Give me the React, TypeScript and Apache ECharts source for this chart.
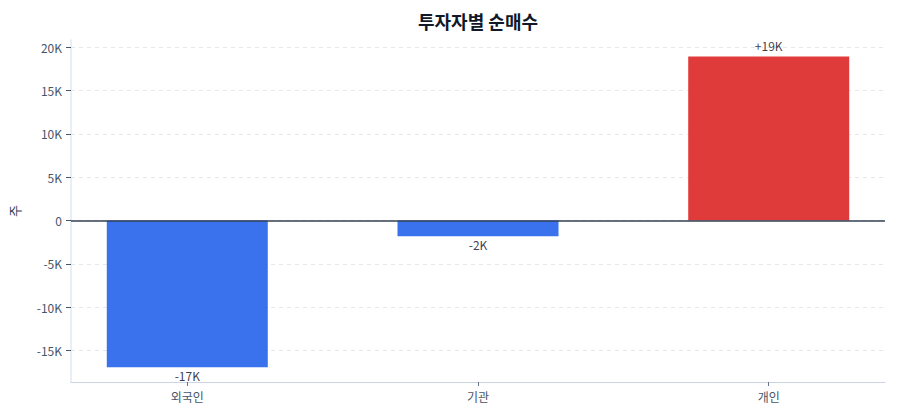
import { useEffect, useRef } from "react";
import * as echarts from "echarts";

const categories = ["외국인", "기관", "개인"];
const netBuy = [-16960, -1810, 18960];
const yTicks = [-15000, -10000, -5000, 0, 5000, 10000, 15000, 20000];
const xTicks = [0, 1, 2];

const fmtTick = (v: number) => (v === 0 ? "0" : `${v / 1000}K`);
const fmtBar = (v: number) => `${v > 0 ? "+" : ""}${Math.round(v / 1000)}K`;

export default function App() {
	const chartElementRef = useRef<HTMLDivElement | null>(null);

	useEffect(() => {
		if (!chartElementRef.current) return;
		const chart = echarts.init(chartElementRef.current, null, { renderer: "svg" });

		chart.setOption({
			animation: false,
			textStyle: { fontFamily: "Noto Sans CJK KR" },
			title: {
				text: "투자자별 순매수",
				left: 473,
				top: 7,
				textAlign: "center",
				textStyle: { fontSize: 18, fontWeight: "bold", color: "#111827", fontFamily: "Noto Sans CJK KR" },
			},
			grid: { left: 71, right: 15, top: 40, bottom: 38, containLabel: false },
			xAxis: {
				type: "value",
				min: -0.4,
				max: 2.4,
				axisLine: { show: true, onZero: false, lineStyle: { color: "#cbd5e1", width: 1 } },
				axisTick: { show: true, customValues: xTicks, length: 4, lineStyle: { color: "#64748b" } },
				axisLabel: {
					customValues: xTicks,
					formatter: (v: number) => categories[Math.round(v)] ?? "",
					color: "#475569",
					fontSize: 12,
					margin: 8,
				},
				splitLine: { show: false },
			},
			yAxis: {
				type: "value",
				min: (v: { min: number }) => v.min * 1.1,
				max: (v: { max: number }) => v.max * 1.1,
				name: "주",
				nameLocation: "middle",
				nameGap: 50,
				nameTextStyle: { color: "#334155", fontSize: 13 },
				axisLine: { show: true, onZero: false, lineStyle: { color: "#e2e8f0", width: 1.5 } },
				axisTick: { show: true, customValues: yTicks, length: 5, lineStyle: { color: "#475569" } },
				axisLabel: { customValues: yTicks, formatter: fmtTick, color: "#475569", fontSize: 12, margin: 9 },
				splitLine: { show: true, lineStyle: { color: "#e5e7eb", type: [4, 4] } },
			},
			series: [
				{
					type: "bar",
					barWidth: 161,
					data: netBuy.map((v, i) => ({
						value: [i, v],
						itemStyle: { color: v < 0 ? "#2563eb" : "#dc2626", opacity: 0.9 },
						label: { position: v < 0 ? "bottom" : "top", distance: v < 0 ? 2 : 5 },
					})),
					label: {
						show: true,
						formatter: (p: { value: number[] }) => fmtBar(p.value[1]),
						color: "#1f2937",
						fontSize: 12,
					},
					markLine: {
						silent: true,
						symbol: "none",
						label: { show: false },
						lineStyle: { color: "#334155", type: "solid", width: 1.5 },
						data: [{ yAxis: 0 }],
					},
				},
			],
		});

		return () => {
			chart.dispose();
		};
	}, []);

	return (
		<div
			ref={chartElementRef}
			style={{ position: "absolute", left: 0, top: 0, width: 900, height: 420 }}
		/>
	);
}
